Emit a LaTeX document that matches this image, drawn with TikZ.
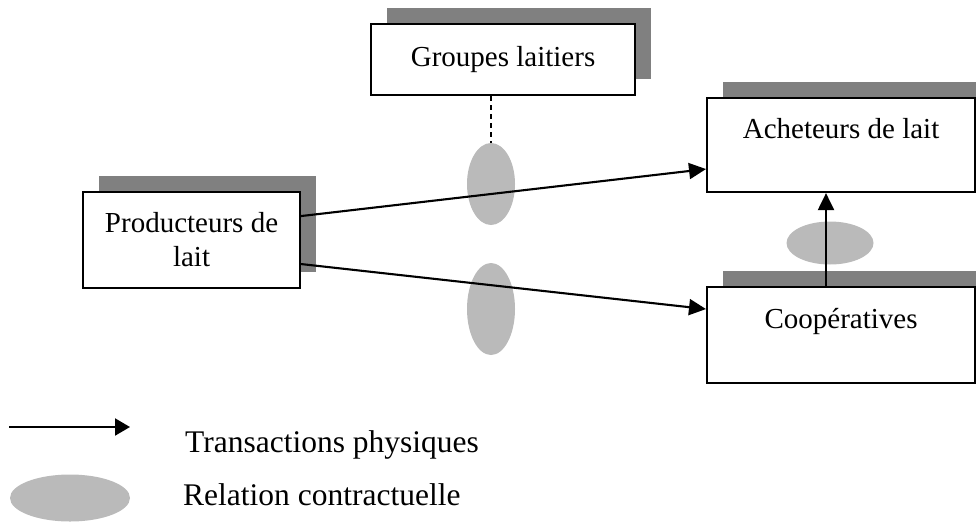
\documentclass[tikz,border=0pt]{standalone}
\usepackage{fontspec}
\setmainfont{Liberation Serif}
\usetikzlibrary{shapes.geometric,shadows,arrows.meta}

\tikzset{
    acteur/.style={draw, line width=2.1pt, fill=white, align=center, anchor=north west, inner sep=0pt,
        drop shadow={shadow xshift=16pt, shadow yshift=16pt, fill=gray, opacity=1}},
    contrat/.style={ellipse, fill=black!27, draw=none, inner sep=0pt},
    flux/.style={line width=2.1pt, -{Triangle[length=17pt,width=16pt]}},
    legende/.style={anchor=base west, inner sep=0pt, font=\fontsize{31.5}{36}\selectfont}
}

\begin{document}
\begin{tikzpicture}[x=1pt, y=-1pt, font=\fontsize{29}{34}\selectfont]
            \useasboundingbox (0,0) rectangle (976,525);

            \node[acteur, minimum width=264pt, minimum height=71pt] (grp) at (370,23) {Groupes laitiers};
            \node[acteur, minimum width=217pt, minimum height=96pt] (prod) at (82,191) {Producteurs de\\lait};
            \node[acteur, minimum width=268pt, minimum height=94pt] (ach) at (706,97) {Acheteurs de lait\\~};
            \node[acteur, minimum width=268pt, minimum height=96pt] (coop) at (706,286) {Coopératives\\~};

            \node[contrat, minimum width=48pt, minimum height=82pt] (c1) at (491,184) {};
            \node[contrat, minimum width=48pt, minimum height=92pt] (c2) at (491,309) {};
            \node[contrat, minimum width=87pt, minimum height=43pt] (c3) at (830,243) {};

            \draw[line width=1.7pt, dash pattern=on 5pt off 4pt] (c1.north |- grp.south) -- (c1.north);
            \draw[flux] ([yshift=24pt]prod.east) -- ([yshift=-24pt]ach.west);
            \draw[flux] ([yshift=-24pt]prod.east) -- ([yshift=26pt]coop.west);
            \draw[flux] ([xshift=-4pt]c3.center |- coop.north) -- ([xshift=-4pt]c3.center |- ach.south);

            % legende
            \coordinate (la) at (9,427);
            \coordinate (lb) at (130,427);
            \draw[flux, -{Triangle[length=15pt,width=17pt]}] (la) -- (lb);
            \node[contrat, minimum width=120pt, minimum height=47pt] (c4) at (70,498) {};
            \node[legende] (t1) at (185,452) {Transactions physiques};
            \node[legende] (t2) at (183,505) {Relation contractuelle};

        \end{tikzpicture}
\end{document}
